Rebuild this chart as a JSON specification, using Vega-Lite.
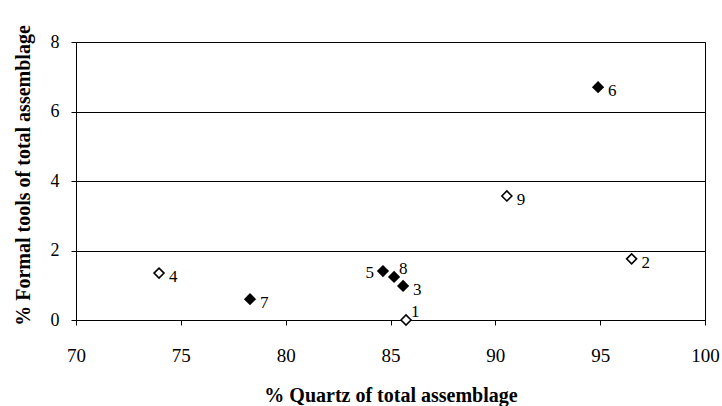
{
  "$schema": "https://vega.github.io/schema/vega-lite/v6.json",
  "autosize": {"type": "none"},
  "width": 629,
  "height": 278,
  "padding": {"left": 76, "top": 42, "right": 17, "bottom": 86},
  "background": "white",
  "config": {
    "view": {"stroke": "black", "strokeWidth": 1},
    "font": "Liberation Serif"
  },
  "data": {
    "values": [
      {"site": "1", "quartz": 85.74, "tools": 0.0, "type": "open"},
      {"site": "2", "quartz": 96.5, "tools": 1.76, "type": "open"},
      {"site": "3", "quartz": 85.6, "tools": 0.98, "type": "filled"},
      {"site": "4", "quartz": 73.96, "tools": 1.35, "type": "open"},
      {"site": "5", "quartz": 84.64, "tools": 1.41, "type": "filled"},
      {"site": "6", "quartz": 94.9, "tools": 6.7, "type": "filled"},
      {"site": "7", "quartz": 78.3, "tools": 0.6, "type": "filled"},
      {"site": "8", "quartz": 85.17, "tools": 1.24, "type": "filled"},
      {"site": "9", "quartz": 90.55, "tools": 3.57, "type": "open"}
    ]
  },
  "encoding": {
    "x": {
      "field": "quartz", "type": "quantitative",
      "scale": {"domain": [70, 100], "nice": false, "zero": false},
      "axis": {
        "title": "% Quartz of total assemblage",
        "values": [70, 75, 80, 85, 90, 95, 100],
        "grid": false, "domainColor": "black", "tickColor": "black", "tickSize": 5,
        "labelFlush": false,
        "labelFont": "Liberation Serif", "labelFontSize": 19, "labelColor": "black", "labelPadding": 21,
        "titleFont": "Liberation Serif", "titleFontSize": 20, "titleFontWeight": "bold", "titleColor": "black", "titlePadding": 20
      }
    },
    "y": {
      "field": "tools", "type": "quantitative",
      "scale": {"domain": [0, 8], "nice": false},
      "axis": {
        "title": "% Formal tools of total assemblage",
        "values": [0, 2, 4, 6, 8],
        "grid": true, "gridColor": "black", "gridWidth": 1,
        "labelFlush": false,
        "domainColor": "black", "tickColor": "black", "tickSize": 5,
        "labelFont": "Liberation Serif", "labelFontSize": 18, "labelColor": "black", "labelPadding": 12,
        "titleFont": "Liberation Serif", "titleFontSize": 20, "titleFontWeight": "bold", "titleColor": "black", "titlePadding": 17,
        "titleY": 133
      }
    }
  },
  "layer": [
    {
      "transform": [{"filter": "datum.type === 'filled'"}],
      "mark": {"type": "point", "shape": "diamond", "filled": true, "color": "black", "size": 150, "opacity": 1}
    },
    {
      "transform": [{"filter": "datum.type === 'open'"}],
      "mark": {"type": "point", "shape": "diamond", "filled": true, "fill": "white", "stroke": "black", "strokeWidth": 1.6, "size": 100, "opacity": 1}
    },
    {
      "transform": [{"filter": "indexof(['2','3','4','6','7','9'], datum.site) >= 0"}],
      "mark": {"type": "text", "align": "left", "baseline": "middle", "dx": 10, "dy": 4, "fontSize": 17, "font": "Liberation Serif", "color": "black"},
      "encoding": {"text": {"field": "site"}}
    },
    {
      "transform": [{"filter": "datum.site === '5'"}],
      "mark": {"type": "text", "align": "right", "baseline": "middle", "dx": -9, "dy": 2, "fontSize": 17, "font": "Liberation Serif", "color": "black"},
      "encoding": {"text": {"field": "site"}}
    },
    {
      "transform": [{"filter": "datum.site === '8' || datum.site === '1'"}],
      "mark": {"type": "text", "align": "left", "baseline": "middle", "dx": 5, "dy": -8, "fontSize": 17, "font": "Liberation Serif", "color": "black"},
      "encoding": {"text": {"field": "site"}}
    }
  ]
}
